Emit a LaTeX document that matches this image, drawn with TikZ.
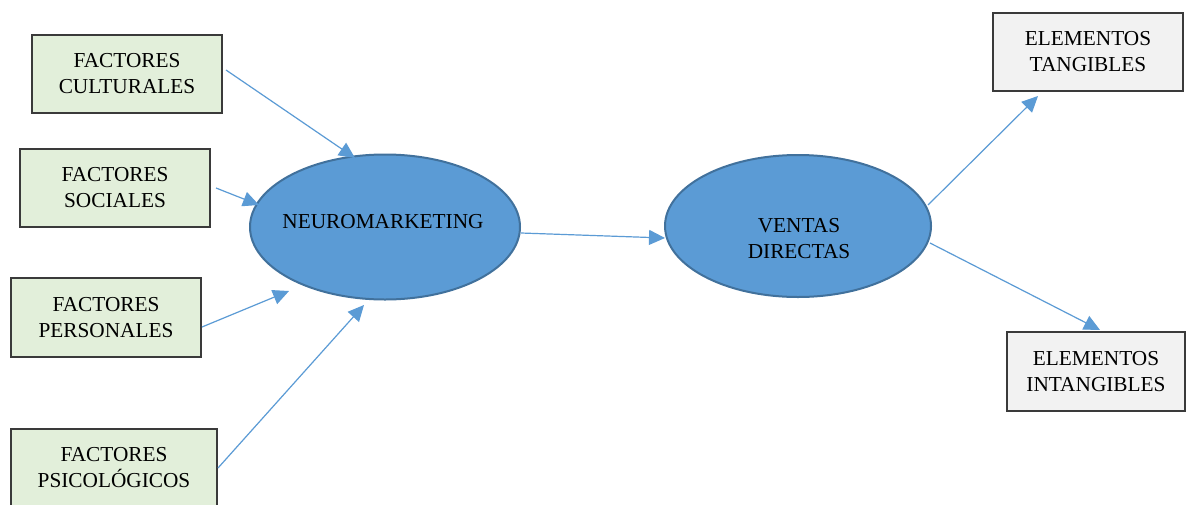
\documentclass[tikz,border=0pt]{standalone}
\usepackage{fontspec}
\setmainfont{Liberation Serif}
\usetikzlibrary{arrows.meta,calc,shapes.geometric}
\definecolor{boxgreen}{HTML}{E2EFDA}
\definecolor{boxgray}{HTML}{F2F2F2}
\definecolor{boxline}{HTML}{3A3A3A}
\definecolor{ellfill}{HTML}{5B9BD5}
\definecolor{elldraw}{HTML}{41719C}
\definecolor{arrcol}{HTML}{5B9BD5}
\tikzset{
  txt/.style={font=\fontsize{21.3}{26}\selectfont, align=center, inner sep=0pt},
  gbox/.style={txt, draw=boxline, line width=1.3pt, fill=boxgreen, minimum height=78pt},
  greybox/.style={txt, draw=boxline, line width=1.3pt, fill=boxgray, minimum height=78pt},
  ell/.style={ellipse, draw=elldraw, line width=2pt, fill=ellfill, inner sep=0pt},
  arr/.style={draw=arrcol, line width=1.2pt, -{Triangle[length=16pt,width=15pt]}}
}
\begin{document}
\begin{tikzpicture}[x=1pt,y=-1pt]
\useasboundingbox (0,0) rectangle (1186,504);
\fill[white] (0,0) rectangle (1186,504);
% left boxes
\node[gbox, minimum width=190pt] (cult) at (127,74) {FACTORES\\CULTURALES};
\node[gbox, minimum width=190pt] (soc) at (115,188) {FACTORES\\SOCIALES};
\node[gbox, minimum width=190pt, minimum height=79pt] (pers) at (106,317.5) {FACTORES\\PERSONALES};
\node[gbox, minimum width=206pt] (psic) at (114,468) {FACTORES\\PSICOLÓGICOS};
% right boxes
\node[greybox, minimum width=190pt] (tang) at (1088,52) {ELEMENTOS\\TANGIBLES};
\node[greybox, minimum width=178pt, minimum height=79pt] (intang) at (1096,371.5) {ELEMENTOS\\INTANGIBLES};
% ellipses
\node[ell, minimum width=270pt, minimum height=145pt] (neuro) at (385,227) {};
\node[txt] (neuroT) at (383,222) {NEUROMARKETING};
\node[ell, minimum width=266pt, minimum height=142pt] (ventas) at (798,226) {};
\node[txt] (ventasT) at (799,239) {VENTAS\\DIRECTAS};
% arrows
\draw[arr] ($(cult)+(99,-4)$) -- ($(neuro)+(-30,-69)$);
\draw[arr] ($(soc)+(101,0)$) -- ($(neuro)+(-126,-22)$);
\draw[arr] ($(pers)+(96,9.5)$) -- ($(neuro)+(-96,64)$);
\draw[arr] ($(psic)+(104,0)$) -- ($(neuro)+(-21,78)$);
\draw[arr] ($(neuro)+(136,6)$) -- ($(ventas)+(-133,12)$);
\draw[arr] ($(ventas)+(130,-21)$) -- ($(tang)+(-50,44)$);
\draw[arr] ($(ventas)+(132,17)$) -- ($(intang)+(4,-41.5)$);
\end{tikzpicture}
\end{document}
